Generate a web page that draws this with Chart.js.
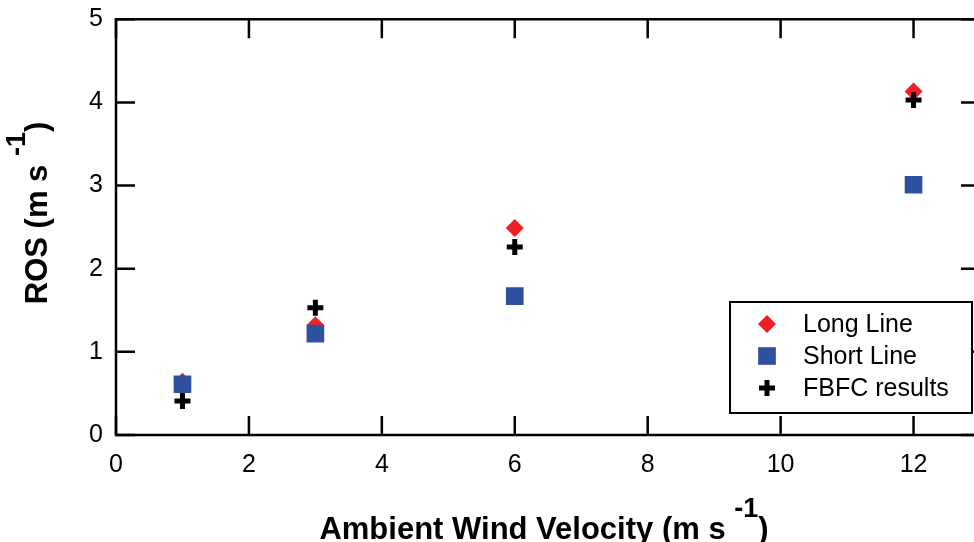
<!DOCTYPE html>
<html>
<head>
<meta charset="utf-8">
<script src="https://cdn.jsdelivr.net/npm/chart.js@4"></script>
<style>
  html, body { margin: 0; padding: 0; background: #fff; overflow: hidden; }
  canvas { display: block; }
</style>
</head>
<body>
<canvas id="chart" width="990" height="542"></canvas>
<script>
// ---------------------------------------------------------------------------
// Data
// ---------------------------------------------------------------------------

const windVelocity = [1, 3, 6, 12];
const longLine     = [0.64, 1.32, 2.49, 4.13];
const shortLine    = [0.61, 1.22, 1.67, 3.01];
const fbfcResults  = [0.41, 1.53, 2.26, 4.03];

const seriesNames  = ['Long Line', 'Short Line', 'FBFC results'];

const xTickValues  = [0, 2, 4, 6, 8, 10, 12];
const yTickValues  = [0, 1, 2, 3, 4, 5];

// axis titles: main part, superscript, closing part
const xTitleParts  = ['Ambient Wind Velocity (m s ', '-1', ')'];
const yTitleParts  = ['ROS (m s ', '-1', ')'];

const RED  = '#ee1f26';
const BLUE = '#2f4f9f';
const FONT = 'Arial, "Liberation Sans", sans-serif';

const toPoints = ys => ys.map((y, i) => ({ x: windVelocity[i], y }));

// ---------------------------------------------------------------------------
// Frame, inward ticks, titles and boxed legend
// ---------------------------------------------------------------------------

function drawTitle(ctx, parts, cx, cy, rotation) {
  const mainFont = 'bold 31px ' + FONT;
  const supFont  = 'bold 27px ' + FONT;
  const pieces = [
    { text: parts[0], font: mainFont, rise: 0 },
    { text: parts[1], font: supFont,  rise: 22 },
    { text: parts[2], font: mainFont, rise: 0 },
  ];
  ctx.save();
  let total = 0;
  for (const p of pieces) { ctx.font = p.font; p.w = ctx.measureText(p.text).width; total += p.w; }
  ctx.translate(cx, cy);
  ctx.rotate(rotation);
  ctx.fillStyle = '#000';
  ctx.textBaseline = 'alphabetic';
  ctx.textAlign = 'left';
  let x = -total / 2;
  for (const p of pieces) {
    ctx.font = p.font;
    ctx.fillText(p.text, x, -p.rise);
    x += p.w;
  }
  ctx.restore();
}

function drawMarker(ctx, ds, x, y) {
  ctx.save();
  ctx.fillStyle = ds.backgroundColor;
  ctx.strokeStyle = ds.borderColor;
  ctx.lineWidth = ds.borderWidth;
  Chart.helpers.drawPoint(ctx, {
    pointStyle: ds.pointStyle,
    radius: ds.pointRadius,
    borderWidth: ds.borderWidth,
    rotation: 0,
  }, x, y);
  ctx.restore();
}

const framePlugin = {
  id: 'frame',
  afterDraw(chart) {
    const { ctx, chartArea: a, scales } = chart;
    const tick = 19;
    ctx.save();
    ctx.strokeStyle = '#000';
    ctx.lineWidth = 2.5;
    ctx.strokeRect(a.left, a.top, a.right - a.left, a.bottom - a.top);
    ctx.beginPath();
    for (const v of xTickValues) {
      const px = scales.x.getPixelForValue(v);
      ctx.moveTo(px, a.bottom); ctx.lineTo(px, a.bottom - tick);
      ctx.moveTo(px, a.top);    ctx.lineTo(px, a.top + tick);
    }
    for (const v of yTickValues) {
      const py = scales.y.getPixelForValue(v);
      ctx.moveTo(a.left, py);  ctx.lineTo(a.left + tick, py);
      ctx.moveTo(a.right, py); ctx.lineTo(a.right - tick, py);
    }
    ctx.stroke();

    // legend box
    const lx = 730, ly = 302, lw = 242, lh = 111;
    ctx.fillStyle = '#fff';
    ctx.fillRect(lx, ly, lw, lh);
    ctx.lineWidth = 2;
    ctx.strokeRect(lx, ly, lw, lh);
    const rows = [324, 356, 388];
    ctx.font = '25px ' + FONT;
    ctx.textBaseline = 'middle';
    ctx.textAlign = 'left';
    chart.data.datasets.forEach((ds, i) => {
      drawMarker(ctx, ds, 767, rows[i]);
      ctx.fillStyle = '#000';
      ctx.fillText(ds.label, 803, rows[i] + 1);
    });
    ctx.restore();

    drawTitle(ctx, xTitleParts, 544, 539, 0);
    drawTitle(ctx, yTitleParts, 47, 213, -Math.PI / 2);
  },
};

// ---------------------------------------------------------------------------
// Chart
// ---------------------------------------------------------------------------

new Chart(document.getElementById('chart'), {
  type: 'scatter',
  data: {
    datasets: [
      {
        label: seriesNames[0],
        data: toPoints(longLine),
        pointStyle: 'rectRot',
        pointRadius: 9,
        backgroundColor: RED,
        borderColor: RED,
        borderWidth: 0,
        order: 3,
      },
      {
        label: seriesNames[1],
        data: toPoints(shortLine),
        pointStyle: 'rect',
        pointRadius: 12.5,
        backgroundColor: BLUE,
        borderColor: BLUE,
        borderWidth: 0,
        order: 2,
      },
      {
        label: seriesNames[2],
        data: toPoints(fbfcResults),
        pointStyle: 'cross',
        pointRadius: 8,
        backgroundColor: '#000',
        borderColor: '#000',
        borderWidth: 5,
        order: 1,
      },
    ],
  },
  options: {
    responsive: false,
    animation: false,
    devicePixelRatio: 1,
    layout: { autoPadding: false, padding: { top: 19, right: 10, left: 0, bottom: 0 } },
    plugins: {
      legend: { display: false },
      tooltip: { enabled: false },
    },
    scales: {
      x: {
        type: 'linear',
        min: 0,
        max: 13,
        afterBuildTicks: s => { s.ticks = xTickValues.map(value => ({ value })); },
        afterFit: s => { s.height = 107; },
        grid: { display: false, drawTicks: false },
        border: { display: false },
        ticks: { color: '#000', font: { size: 25, family: FONT }, padding: 15, maxRotation: 0 },
        title: { display: false },
      },
      y: {
        type: 'linear',
        min: 0,
        max: 5,
        afterBuildTicks: s => { s.ticks = yTickValues.map(value => ({ value })); },
        afterFit: s => { s.width = 116; },
        grid: { display: false, drawTicks: false },
        border: { display: false },
        ticks: { color: '#000', font: { size: 25, family: FONT, lineHeight: 0.5 }, padding: 13 },
        title: { display: false },
      },
    },
  },
  plugins: [framePlugin],
});
</script>
</body>
</html>
